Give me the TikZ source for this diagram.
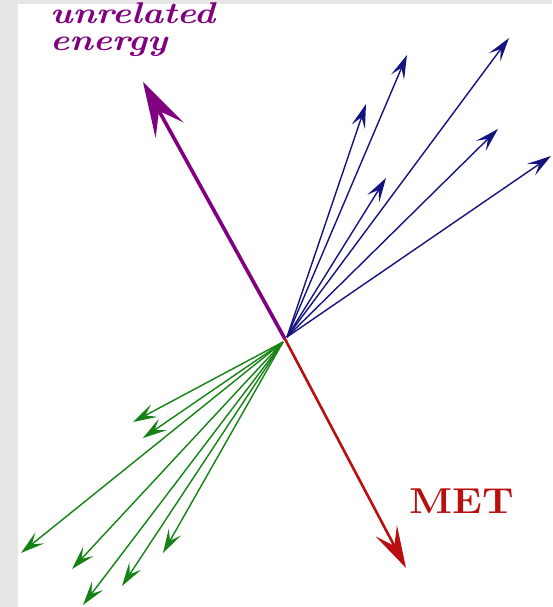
\documentclass[tikz,border=0pt]{standalone}
\usetikzlibrary{arrows.meta}
\definecolor{bggrey}{RGB}{230,230,230}
\definecolor{enpurple}{RGB}{128,0,128}
\definecolor{jetblue}{RGB}{20,20,128}
\definecolor{jetgreen}{RGB}{20,130,20}
\definecolor{metred}{RGB}{185,15,15}
\tikzset{
  jet/.style={line width=1.4pt,-{Stealth[length=24pt,width=14pt,inset=10pt]}},
  bluejet/.style={jet,draw=jetblue,fill=jetblue},
  greenjet/.style={jet,draw=jetgreen,fill=jetgreen},
  purplearrow/.style={enpurple,line width=3.6pt,-{Stealth[length=55pt,width=32pt,inset=22pt]}},
  redarrow/.style={metred,line width=2.6pt,-{Stealth[length=42pt,width=24pt,inset=17pt]}},
  purpletext/.style={anchor=base west,inner sep=0pt,xscale=1.2,text=enpurple,
    font=\fontsize{30}{27}\selectfont\bfseries\itshape},
}
\begin{document}
\begin{tikzpicture}[x=1pt,y=-1pt]
\fill[bggrey] (0,0) rectangle (552,607);
\fill[white] (18,4) rectangle (552,607);
\useasboundingbox (0,0) rectangle (552,607);
\coordinate (o) at (285,339);
\coordinate (ob) at (287,337);
\coordinate (og) at (283,342);
% purple
\coordinate (pu) at (143,82);
\draw[purplearrow] (o) -- (pu);
% red
\coordinate (met) at (406,568);
\draw[redarrow] (o) -- (met);
% blue jets
\coordinate (b1) at (366,104);
\coordinate (b2) at (407,55);
\coordinate (b3) at (386,178);
\coordinate (b4) at (509,38);
\coordinate (b5) at (498,129);
\coordinate (b6) at (551,156);
\foreach \t in {b1,b2,b3,b4,b5,b6} \draw[bluejet] (ob) -- (\t);
% green jets
\coordinate (g1) at (133,422);
\coordinate (g2) at (143,438);
\coordinate (g3) at (21,553);
\coordinate (g4) at (72,569);
\coordinate (g5) at (83,605);
\coordinate (g6) at (122,586);
\coordinate (g7) at (163,553);
\foreach \t in {g1,g2,g3,g4,g5,g6,g7} \draw[greenjet] (og) -- (\t);
% labels
\node[purpletext] (unrel1) at (50,23.5) {unrelated};
\node[purpletext] (unrel2) at (50,51) {energy};
\node[anchor=base west,inner sep=0pt,xscale=1.12,text=metred,
  font=\fontsize{36}{40}\selectfont\bfseries] (metlbl) at (409,513) {MET};
\end{tikzpicture}
\end{document}
